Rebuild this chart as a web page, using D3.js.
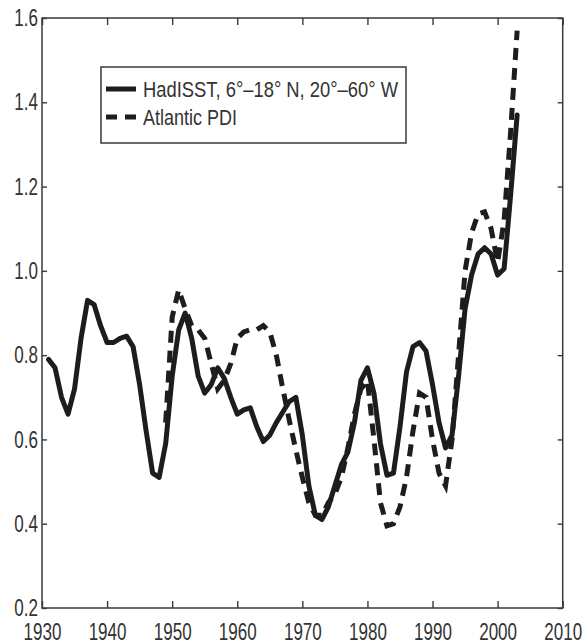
<!DOCTYPE html>
<html>
<head>
<meta charset="utf-8">
<script src="https://cdn.jsdelivr.net/npm/d3@7.9.0/dist/d3.min.js"></script>
<style>
  html, body { margin: 0; padding: 0; background: #fff; }
  svg { display: block; font-family: "Liberation Sans", Arial, Helvetica, sans-serif; }
  .axis path { display: none; }
  .axis line { stroke: #3a3a3a; stroke-width: 1.4; }
  .axis text { fill: #333; font-size: 24px; }
</style>
</head>
<body>
<svg id="chart" width="588" height="644"></svg>
<script>
// HadISST SST index (6-18N, 20-60W)
const sstYears = d3.range(1931, 2004);
const sstValues = [
  0.79, 0.77, 0.70, 0.66, 0.72, 0.84, 0.93, 0.92, 0.87, 0.83,
  0.83, 0.84, 0.845, 0.82, 0.73, 0.62, 0.52, 0.51, 0.59, 0.75,
  0.86, 0.90, 0.84, 0.75, 0.71, 0.73, 0.77, 0.745, 0.70, 0.66,
  0.67, 0.675, 0.63, 0.595, 0.61, 0.64, 0.665, 0.69, 0.70, 0.61,
  0.49, 0.42, 0.41, 0.44, 0.49, 0.54, 0.57, 0.64, 0.74, 0.77,
  0.71, 0.59, 0.515, 0.52, 0.63, 0.76, 0.82, 0.83, 0.81, 0.73,
  0.64, 0.58, 0.61, 0.75, 0.91, 0.99, 1.04, 1.055, 1.04, 0.99,
  1.005, 1.18, 1.37
];

// Atlantic power dissipation index (scaled)
const pdiYears = d3.range(1949, 2004);
const pdiValues = [
  0.64, 0.89, 0.955, 0.91, 0.87, 0.86, 0.84, 0.78, 0.72, 0.74,
  0.78, 0.84, 0.855, 0.86, 0.86, 0.87, 0.855, 0.80, 0.72, 0.645,
  0.575, 0.51, 0.45, 0.42, 0.42, 0.45, 0.47, 0.51, 0.58, 0.66,
  0.72, 0.74, 0.60, 0.45, 0.395, 0.40, 0.44, 0.51, 0.62, 0.71,
  0.70, 0.60, 0.52, 0.49, 0.60, 0.80, 1.00, 1.09, 1.135, 1.14,
  1.10, 1.02, 1.12, 1.33, 1.57
];

const xTicks = d3.range(1930, 2011, 10);
const yTicks = [0.2, 0.4, 0.6, 0.8, 1.0, 1.2, 1.4, 1.6];
const legendLabels = ['HadISST, 6\u00b0\u201318\u00b0 N, 20\u00b0\u201360\u00b0 W', 'Atlantic PDI'];

const width = 588;
const height = 644;
const margin = { top: 18, right: 25.3, bottom: 36, left: 42 };
const lineColor = '#1e1c1c';
const squeeze = 0.71; // the figure's labels are a narrow face

const svg = d3.select('#chart');

const x = d3.scaleLinear()
  .domain([1930, 2010])
  .range([margin.left, width - margin.right]);

const y = d3.scaleLinear()
  .domain([0.2, 1.6])
  .range([height - margin.bottom, margin.top]);

// frame
svg.append('rect')
  .attr('x', x(1930))
  .attr('y', y(1.6))
  .attr('width', x(2010) - x(1930))
  .attr('height', y(0.2) - y(1.6))
  .attr('fill', 'none')
  .attr('stroke', '#3a3a3a')
  .attr('stroke-width', 1.5);

// axes, ticks pointing inward
const bottomAxis = svg.append('g')
  .attr('class', 'axis')
  .attr('transform', `translate(0,${y(0.2)})`)
  .call(d3.axisBottom(x).tickValues(xTicks).tickFormat(d3.format('d'))
    .tickSizeInner(-7).tickSizeOuter(0).tickPadding(15));
bottomAxis.selectAll('text')
  .attr('transform', `scale(${squeeze},1)`);

const leftAxis = svg.append('g')
  .attr('class', 'axis')
  .attr('transform', `translate(${x(1930)},0)`)
  .call(d3.axisLeft(y).tickValues(yTicks).tickFormat(d3.format('.1f'))
    .tickSizeInner(-5).tickSizeOuter(0).tickPadding(4));
leftAxis.selectAll('text')
  .attr('x', -4 / squeeze)
  .attr('transform', `scale(${squeeze},1)`);

svg.append('g')
  .attr('class', 'axis')
  .attr('transform', `translate(0,${y(1.6)})`)
  .call(d3.axisTop(x).tickValues(xTicks).tickFormat('')
    .tickSizeInner(-7).tickSizeOuter(0));

svg.append('g')
  .attr('class', 'axis')
  .attr('transform', `translate(${x(2010)},0)`)
  .call(d3.axisRight(y).tickValues(yTicks).tickFormat('')
    .tickSizeInner(-5).tickSizeOuter(0));

// series
const line = d3.line()
  .x((d) => x(d[0]))
  .y((d) => y(d[1]));

const sstSeries = sstYears.map((yr, i) => [yr, sstValues[i]]);
const pdiSeries = pdiYears.map((yr, i) => [yr, pdiValues[i]]);

svg.append('path')
  .datum(sstSeries)
  .attr('d', line)
  .attr('fill', 'none')
  .attr('stroke', lineColor)
  .attr('stroke-width', 5)
  .attr('stroke-linejoin', 'round')
  .attr('stroke-linecap', 'round');

svg.append('path')
  .datum(pdiSeries)
  .attr('d', line)
  .attr('fill', 'none')
  .attr('stroke', lineColor)
  .attr('stroke-width', 5)
  .attr('stroke-dasharray', '12,8');

// legend
const legend = svg.append('g');

legend.append('rect')
  .attr('x', 101)
  .attr('y', 67)
  .attr('width', 305)
  .attr('height', 76)
  .attr('fill', '#fff')
  .attr('stroke', '#3a3a3a')
  .attr('stroke-width', 1.5);

const legendRows = legend.selectAll('g.row')
  .data(legendLabels)
  .join('g')
  .attr('class', 'row')
  .attr('transform', (d, i) => `translate(0,${89 + i * 28})`);

legendRows.append('line')
  .attr('x1', 106)
  .attr('x2', 136)
  .attr('stroke', lineColor)
  .attr('stroke-width', 5)
  .attr('stroke-dasharray', (d, i) => (i === 0 ? null : '11,8'));

legendRows.append('text')
  .attr('x', 143)
  .attr('y', 8)
  .attr('fill', '#333')
  .attr('font-size', 22)
  .attr('textLength', (d, i) => (i === 0 ? 255 : 94))
  .attr('lengthAdjust', 'spacingAndGlyphs')
  .text((d) => d);
</script>
</body>
</html>
